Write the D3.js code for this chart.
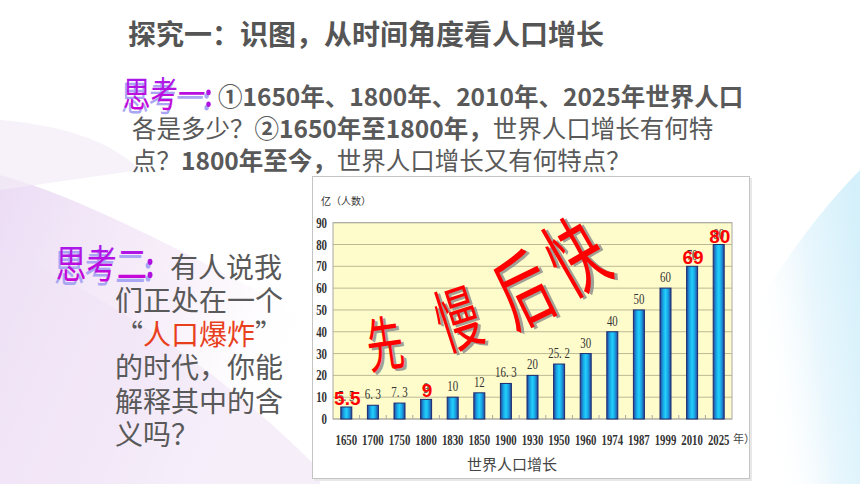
<!DOCTYPE html>
<html>
<head>
<meta charset="utf-8">
<script src="https://cdn.jsdelivr.net/npm/d3@7"></script>
<style>
  body { margin: 0; background: #fff; }
  svg { display: block; }
</style>
</head>
<body>
<div id="slide"></div>
<script>
// data
let years = ['1650', '1700', '1750', '1800', '1830', '1850', '1900', '1930', '1950', '1960', '1974', '1987', '1999', '2010', '2025']
let population = [5.5, 6.3, 7.3, 9, 10, 12, 16.3, 20, 25.2, 30, 40, 50, 60, 70, 80]
let valueLabels = ['5. 5', '6. 3', '7. 3', '9', '10', '12', '16. 3', '20', '25. 2', '30', '40', '50', '60', '70', '80']
let redYears = ['1650', '1800', '2010', '2025']
let redLabels = ['5.5', '9', '69', '80']
let yTicks = [0, 10, 20, 30, 40, 50, 60, 70, 80, 90]

let width = 860
let height = 484

let cjk = '"Noto Sans CJK SC", "Noto Sans", sans-serif'
let serif = '"Liberation Serif", "DejaVu Serif", serif'

let svg = d3.select('#slide')
  .append('svg')
  .attr('width', width)
  .attr('height', height)

let defs = svg.append('defs')

// background swooshes
let lav = defs.append('linearGradient').attr('id', 'lav')
  .attr('x1', 0).attr('y1', 0).attr('x2', 1).attr('y2', 0.4)
lav.append('stop').attr('offset', '0%').attr('stop-color', '#e9d8f4').attr('stop-opacity', 0.9)
lav.append('stop').attr('offset', '60%').attr('stop-color', '#f3e6f6').attr('stop-opacity', 0.6)
lav.append('stop').attr('offset', '100%').attr('stop-color', '#ffffff').attr('stop-opacity', 0)

let blue = defs.append('linearGradient').attr('id', 'blue')
  .attr('x1', 1).attr('y1', 0.2).attr('x2', 0).attr('y2', 0.6)
blue.append('stop').attr('offset', '0%').attr('stop-color', '#d4f0fb')
blue.append('stop').attr('offset', '50%').attr('stop-color', '#eaf7fd')
blue.append('stop').attr('offset', '100%').attr('stop-color', '#ffffff').attr('stop-opacity', 0)

let bar = defs.append('linearGradient').attr('id', 'bar')
  .attr('x1', 0).attr('y1', 0).attr('x2', 1).attr('y2', 0)
bar.append('stop').attr('offset', '0%').attr('stop-color', '#24439a')
bar.append('stop').attr('offset', '28%').attr('stop-color', '#1aa6e6')
bar.append('stop').attr('offset', '50%').attr('stop-color', '#22d0fb')
bar.append('stop').attr('offset', '72%').attr('stop-color', '#1aa6e6')
bar.append('stop').attr('offset', '100%').attr('stop-color', '#24439a')

let purple = defs.append('linearGradient').attr('id', 'purple')
  .attr('x1', 0).attr('y1', 0).attr('x2', 0).attr('y2', 1)
purple.append('stop').attr('offset', '0%').attr('stop-color', '#a020f0')
purple.append('stop').attr('offset', '100%').attr('stop-color', '#d000d0')

svg.append('path')
  .attr('d', 'M0,175 C90,200 200,260 330,330 L330,484 L0,484 Z')
  .attr('fill', 'url(#lav)')
svg.append('path')
  .attr('d', 'M0,250 C120,300 230,380 320,470 L320,484 L0,484 Z')
  .attr('fill', '#efe2f5')
  .attr('opacity', 0.55)
svg.append('path')
  .attr('d', 'M0,120 C60,125 110,140 140,170 L0,190 Z')
  .attr('fill', '#f4ecf7')
  .attr('opacity', 0.7)
svg.append('path')
  .attr('d', 'M860,170 C820,210 785,260 760,300 L760,484 L860,484 Z')
  .attr('fill', 'url(#blue)')

// title and questions
svg.append('text')
  .attr('x', 128)
  .attr('y', 45)
  .attr('font-family', cjk)
  .attr('font-size', 28)
  .attr('font-weight', 'bold')
  .attr('fill', '#555')
  .text('探究一：识图，从时间角度看人口增长')

function purpleLabel(x, y, size, label) {
  let g = svg.append('g').attr('transform', `translate(${x},${y}) scale(0.95,1.2)`)
  g.append('text')
    .attr('x', -2).attr('y', 3)
    .attr('font-family', cjk).attr('font-size', size)
    .attr('fill', '#a9a6f4')
    .text(label)
  g.append('text')
    .attr('font-family', cjk).attr('font-size', size)
    .attr('fill', 'url(#purple)')
    .text(label)
  // bold colon after the label
  let cx = size * label.length + 3
  ;[-0.42, -0.08].forEach(f => {
    g.append('circle').attr('cx', cx - 2).attr('cy', size * f + 3).attr('r', size * 0.08).attr('fill', '#a9a6f4')
    g.append('circle').attr('cx', cx).attr('cy', size * f).attr('r', size * 0.08).attr('fill', '#b010e0')
  })
}

purpleLabel(123, 107, 29, '思考一')

let q1 = [
  [[218, 106], [['①1650年、1800年、2010年、2025年世界人口', 'bold']]],
  [[132, 138], [['各是多少？', 'normal'], ['②1650年至1800年，', 'bold'], ['世界人口增长有何特', 'normal']]],
  [[132, 170], [['点？', 'normal'], ['1800年至今，', 'bold'], ['世界人口增长又有何特点？', 'normal']]]
]

q1.forEach(line => {
  let t = svg.append('text')
    .attr('x', line[0][0])
    .attr('y', line[0][1])
    .attr('font-family', cjk)
    .attr('font-size', 24.5)
    .attr('fill', '#595959')
  line[1].forEach(p => {
    t.append('tspan').attr('font-weight', p[1]).text(p[0])
  })
})

purpleLabel(56, 278, 32, '思考二')

let q2 = [
  [170, 278, [['有人说我', '#595959']]],
  [115, 311, [['们正处在一个', '#595959']]],
  [115, 345, [['“', '#595959'], ['人口爆炸', '#e8401c'], ['”', '#595959']]],
  [115, 378, [['的时代，你能', '#595959']]],
  [115, 412, [['解释其中的含', '#595959']]],
  [115, 445, [['义吗？', '#595959']]]
]

q2.forEach(line => {
  let t = svg.append('text')
    .attr('x', line[0])
    .attr('y', line[1])
    .attr('font-family', cjk)
    .attr('font-size', 28)
  line[2].forEach(p => {
    t.append('tspan').attr('fill', p[1]).text(p[0])
  })
})

// chart box
svg.append('rect')
  .attr('x', 314).attr('y', 178)
  .attr('width', 438).attr('height', 303)
  .attr('fill', '#e8e8e8')
svg.append('rect')
  .attr('x', 312.5).attr('y', 176.5)
  .attr('width', 437).attr('height', 302)
  .attr('fill', '#fff')
  .attr('stroke', '#c4c4c4')

let plot = { left: 333, right: 732, top: 222.7, bottom: 419 }

let xScale = d3.scaleBand()
  .domain(years)
  .range([plot.left, plot.right])

let yScale = d3.scaleLinear()
  .domain([0, 90])
  .range([plot.bottom, plot.top])

let chart = svg.append('g')

chart.append('rect')
  .attr('x', plot.left).attr('y', plot.top)
  .attr('width', plot.right - plot.left)
  .attr('height', plot.bottom - plot.top)
  .attr('fill', '#fffccb')

chart.selectAll('.grid')
  .data(yTicks)
  .enter()
  .append('line')
  .attr('class', 'grid')
  .attr('x1', plot.left).attr('x2', plot.right)
  .attr('y1', d => yScale(d)).attr('y2', d => yScale(d))
  .attr('stroke', '#bdb996')
  .attr('stroke-width', 1)

chart.append('rect')
  .attr('x', plot.left).attr('y', plot.top)
  .attr('width', plot.right - plot.left)
  .attr('height', plot.bottom - plot.top)
  .attr('fill', 'none')
  .attr('stroke', '#a8a8a8')

// little ticks on the x axis
chart.selectAll('.xtick')
  .data(years.slice(1))
  .enter()
  .append('line')
  .attr('x1', d => xScale(d)).attr('x2', d => xScale(d))
  .attr('y1', plot.bottom).attr('y2', plot.bottom - 4)
  .attr('stroke', '#a8a8a8')

chart.selectAll('.ylabel')
  .data(yTicks)
  .enter()
  .append('text')
  .attr('text-anchor', 'end')
  .attr('transform', d => `translate(327,${yScale(d) + 5}) scale(0.75,1)`)
  .attr('font-family', serif)
  .attr('font-size', 14.5)
  .attr('font-weight', 'bold')
  .attr('fill', '#333')
  .text(d => d)

svg.append('text')
  .attr('x', 321).attr('y', 205)
  .attr('font-family', cjk)
  .attr('font-size', 10)
  .attr('fill', '#333')
  .text('亿（人数）')

let bw = 11

chart.selectAll('.bar')
  .data(years)
  .enter()
  .append('rect')
  .attr('class', 'bar')
  .attr('x', d => xScale(d) + xScale.bandwidth() / 2 - bw / 2)
  .attr('y', (d, i) => yScale(population[i]))
  .attr('width', bw)
  .attr('height', (d, i) => yScale(0) - yScale(population[i]))
  .attr('fill', 'url(#bar)')
  .attr('stroke', '#1b2b6e')
  .attr('stroke-width', 1)

chart.selectAll('.value')
  .data(years)
  .enter()
  .append('text')
  .attr('text-anchor', 'middle')
  .attr('transform', (d, i) => `translate(${xScale(d) + xScale.bandwidth() / 2},${yScale(population[i]) - 6}) scale(0.75,1)`)
  .attr('font-family', serif)
  .attr('font-size', 14.5)
  .attr('fill', '#333')
  .text((d, i) => valueLabels[i])

chart.selectAll('.xlabel')
  .data(years)
  .enter()
  .append('text')
  .attr('text-anchor', 'middle')
  .attr('transform', d => `translate(${xScale(d) + xScale.bandwidth() / 2},444.5) scale(0.72,1)`)
  .attr('font-family', serif)
  .attr('font-size', 15)
  .attr('font-weight', 'bold')
  .attr('fill', '#333')
  .text(d => d)

svg.append('text')
  .attr('x', 733).attr('y', 443)
  .attr('font-family', cjk)
  .attr('font-size', 11)
  .attr('fill', '#444')
  .text('年）')

svg.append('text')
  .attr('x', 512).attr('y', 470)
  .attr('text-anchor', 'middle')
  .attr('font-family', cjk)
  .attr('font-size', 15)
  .attr('fill', '#444')
  .text('世界人口增长')

// red numbers written over the chart
chart.selectAll('.red')
  .data(redYears)
  .enter()
  .append('text')
  .attr('text-anchor', 'middle')
  .attr('x', d => xScale(d) + xScale.bandwidth() / 2 + 1)
  .attr('y', d => yScale(population[years.indexOf(d)]) - 2)
  .attr('font-family', '"Liberation Sans", Arial, sans-serif')
  .attr('font-weight', 'bold')
  .attr('font-size', 19)
  .attr('fill', '#ff0000')
  .text((d, i) => redLabels[i])

// 先 慢 后 快
let bigWords = [
  ['先', 388, 366, 46, -8],
  ['慢', 466, 344, 54, -18],
  ['后', 537, 318, 64, -26],
  ['快', 592, 284, 66, -30]
]

bigWords.forEach(w => {
  let g = svg.append('g')
    .attr('transform', `translate(${w[1]},${w[2]}) rotate(${w[4]}) scale(0.8,1.3)`)
  g.append('text')
    .attr('x', 3).attr('y', 2)
    .attr('text-anchor', 'middle')
    .attr('font-family', cjk)
    .attr('font-size', w[3])
    .attr('fill', '#8a8a8a')
    .attr('opacity', 0.8)
    .text(w[0])
  g.append('text')
    .attr('text-anchor', 'middle')
    .attr('font-family', cjk)
    .attr('font-size', w[3])
    .attr('fill', '#ff0000')
    .text(w[0])
})
</script>
</body>
</html>
